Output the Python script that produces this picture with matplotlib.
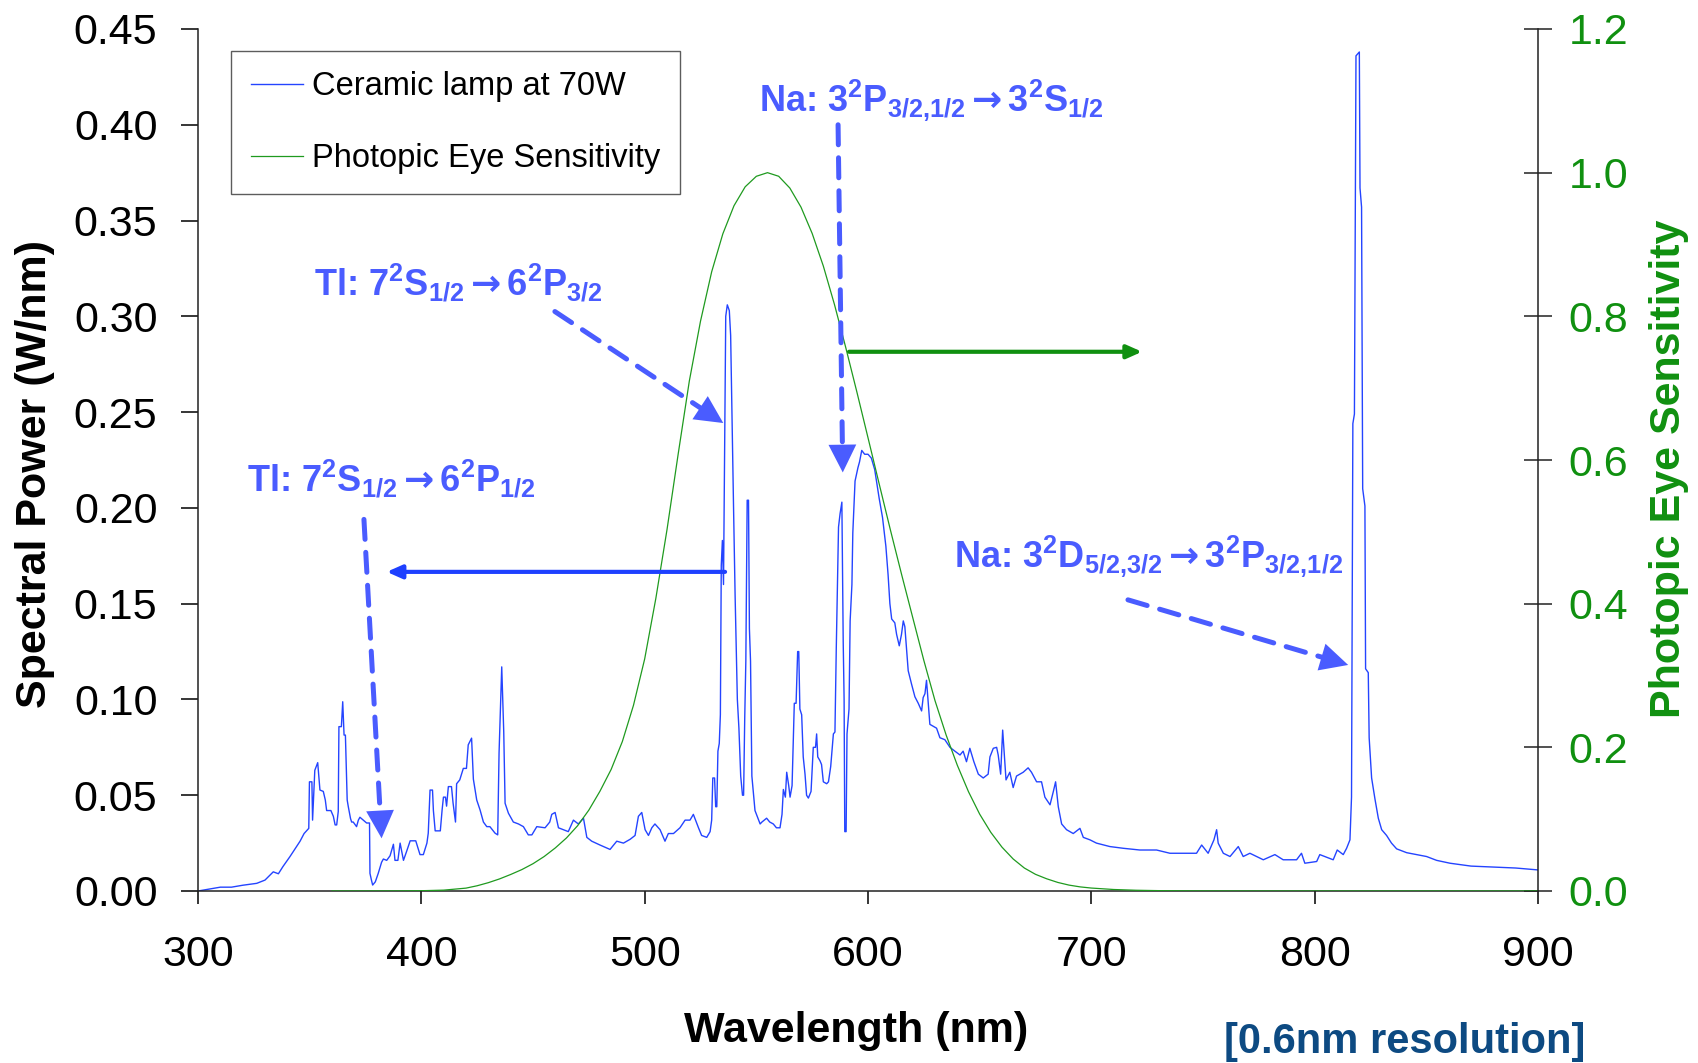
import matplotlib
matplotlib.use('Agg')
import matplotlib.pyplot as plt
from matplotlib.lines import Line2D

plt.rcParams['font.family'] = ['Liberation Sans', 'DejaVu Sans']
plt.rcParams['mathtext.fontset'] = 'custom'
plt.rcParams['mathtext.rm'] = 'Liberation Sans'
plt.rcParams['mathtext.bf'] = 'Liberation Sans:bold'
plt.rcParams['mathtext.it'] = 'Liberation Sans:italic'
plt.rcParams['mathtext.sf'] = 'DejaVu Sans:bold'
plt.rcParams['mathtext.default'] = 'bf'

# ---------------- data ----------------
wavelength = [
    300.0, 305, 310, 315, 320, 326.3, 330, 333.7, 336, 338, 341.2, 344, 345.7, 347.5, 349.6,
    349.9, 351.0, 351.3, 352.3, 353.6, 354.6, 356.1, 357.0, 357.6, 359.5, 360.6, 361.4, 362.1, 362.8,
    363.1, 364.2, 364.8, 365.4, 366.0, 366.8, 367.3, 368.3, 368.8, 369.5, 371.0, 371.8, 372.5, 374.0,
    375.5, 376.8, 377.0, 377.6, 378.2, 379.4, 380.7, 382.2, 383.0, 384.5, 386.0, 387.5, 388.2, 389.5,
    390.5, 392.0, 393.5, 395.0, 397.5, 399.4, 400.9, 402.5, 403.1, 403.9, 405.0, 405.4, 406.2, 406.9,
    408.5, 409.3, 409.9, 410.8, 411.3, 412.1, 413.5, 414.2, 415.3, 415.8, 417.2, 418.8, 420.2, 421.0,
    422.5, 423.3, 424.8, 426.3, 427.8, 429.3, 430.7, 433.0, 434.2, 434.8, 436.0, 436.9, 437.5, 439.0,
    441.2, 443.5, 445.7, 447.9, 449.5, 451.7, 455.4, 457.5, 458.4, 459.9, 461.4, 463.6, 465.8, 468.1,
    470.3, 472.6, 474.1, 476.3, 480.0, 484.5, 487.5, 490.5, 493.5, 495.7, 497.2, 498.7, 500.2, 501.7,
    503.2, 504.6, 506.9, 509.1, 510.6, 512.9, 515.8, 518.1, 520.3, 521.8, 524.1, 525.5, 527.8, 529.3,
    530.0, 530.5, 531.3, 531.8, 532.3, 532.8, 533.4, 533.9, 534.3, 534.8, 535.3, 535.8, 536.3, 537.0,
    537.9, 538.5, 539.2, 539.8, 540.5, 541.5, 542.2, 543.0, 543.8, 544.3, 544.8, 545.3, 545.9, 546.5,
    546.9, 547.4, 548.0, 549.4, 551.7, 552.5, 554.6, 556.0, 557.6, 559.0, 560.6, 561.5, 562.1, 563.0,
    563.6, 564.5, 565.1, 566.0, 567.0, 567.8, 568.5, 569.0, 569.5, 570.3, 571.0, 571.8, 572.5, 573.3,
    574.5, 575.5, 576.5, 577.0, 577.5, 578.5, 579.2, 580.0, 581.5, 582.3, 583.3, 584.5, 585.2, 585.8,
    586.8, 587.5, 588.3, 588.9, 589.3, 589.6, 590.2, 590.6, 591.5, 592.0, 592.8, 593.2, 594.2, 595.5,
    596.2, 597.2, 598.5, 600.0, 601.5, 603.0, 605.0, 606.5, 608.0, 609.0, 609.8, 610.6, 612.0, 612.8,
    614.0, 615.0, 615.8, 616.5, 618.0, 619.5, 621.0, 622.5, 624.0, 624.7, 625.5, 626.2, 627.0, 627.7,
    630.7, 632.2, 634.4, 636.7, 638.9, 641.2, 642.6, 644.1, 645.6, 647.4, 649.4, 651.6, 653.8, 654.6,
    656.1, 657.6, 658.3, 659.4, 660.3, 660.9, 661.8, 663.5, 665.0, 666.5, 669.5, 671.7, 673.2, 675.5,
    677.7, 679.2, 681.5, 683.0, 684.0, 685.2, 686.7, 688.9, 691.9, 694.9, 696.4, 699.4, 702.3, 708.3,
    714.3, 721.7, 729.2, 735.2, 741.2, 747.1, 749.4, 752.3, 754.9, 756.1, 756.8, 759.1, 762.1, 765.8,
    768.0, 771.0, 777.0, 782.2, 785.9, 791.9, 794.1, 795.6, 800.9, 802.3, 808.3, 810.1, 812.8, 814.3,
    815.8, 816.5, 817.1, 817.8, 818.5, 820.0, 820.3, 821.0, 821.5, 822.5, 822.8, 824.0, 824.4, 825.5,
    827.0, 828.5, 830.0, 832.2, 834.4, 836.7, 841.2, 845.6, 850.1, 854.6, 860.6, 870.0, 880.0, 890.0,
    900.0,
]
power = [
    0.000, 0.001, 0.002, 0.002, 0.003, 0.004, 0.0057, 0.010, 0.009, 0.0127, 0.018, 0.023, 0.026, 0.030, 0.0327,
    0.057, 0.057, 0.037, 0.063, 0.067, 0.0527, 0.052, 0.0475, 0.042, 0.042, 0.039, 0.0345, 0.0345, 0.0415,
    0.0858, 0.0858, 0.0988, 0.0814, 0.0814, 0.0475, 0.044, 0.0378, 0.036, 0.036, 0.0336, 0.037, 0.0385, 0.037,
    0.0355, 0.0355, 0.0092, 0.006, 0.0031, 0.0048, 0.0092, 0.015, 0.0167, 0.016, 0.0184, 0.0244, 0.016, 0.016,
    0.025, 0.016, 0.021, 0.0262, 0.0262, 0.019, 0.019, 0.025, 0.0302, 0.0527, 0.0527, 0.042, 0.0314, 0.0314,
    0.0314, 0.0423, 0.049, 0.049, 0.0443, 0.0545, 0.0545, 0.046, 0.036, 0.056, 0.058, 0.064, 0.064, 0.0763,
    0.0798, 0.0584, 0.0475, 0.0423, 0.036, 0.0336, 0.0336, 0.0302, 0.0293, 0.072, 0.117, 0.083, 0.0458, 0.0406,
    0.036, 0.035, 0.0336, 0.0293, 0.0293, 0.0336, 0.033, 0.036, 0.040, 0.041, 0.033, 0.032, 0.031, 0.037,
    0.035, 0.038, 0.028, 0.026, 0.024, 0.0217, 0.026, 0.025, 0.027, 0.029, 0.039, 0.041, 0.032, 0.029,
    0.033, 0.035, 0.032, 0.026, 0.030, 0.030, 0.033, 0.037, 0.037, 0.040, 0.033, 0.029, 0.028, 0.031,
    0.037, 0.059, 0.059, 0.044, 0.044, 0.073, 0.077, 0.092, 0.170, 0.183, 0.160, 0.230, 0.300, 0.306,
    0.303, 0.290, 0.240, 0.200, 0.154, 0.100, 0.085, 0.060, 0.050, 0.050, 0.090, 0.120, 0.204, 0.204,
    0.137, 0.120, 0.060, 0.042, 0.035, 0.036, 0.038, 0.036, 0.035, 0.033, 0.033, 0.040, 0.053, 0.049,
    0.062, 0.055, 0.049, 0.055, 0.098, 0.098, 0.125, 0.125, 0.095, 0.092, 0.070, 0.061, 0.050, 0.0485,
    0.052, 0.075, 0.075, 0.082, 0.070, 0.068, 0.066, 0.057, 0.056, 0.057, 0.065, 0.082, 0.083, 0.127,
    0.190, 0.197, 0.203, 0.130, 0.100, 0.031, 0.031, 0.082, 0.095, 0.141, 0.160, 0.187, 0.214, 0.221,
    0.224, 0.230, 0.228, 0.228, 0.226, 0.220, 0.205, 0.195, 0.180, 0.165, 0.150, 0.142, 0.140, 0.134,
    0.128, 0.134, 0.141, 0.138, 0.115, 0.108, 0.1014, 0.098, 0.094, 0.101, 0.103, 0.110, 0.098, 0.087,
    0.085, 0.080, 0.079, 0.075, 0.073, 0.071, 0.073, 0.0675, 0.0745, 0.0675, 0.061, 0.059, 0.061, 0.070,
    0.0745, 0.075, 0.071, 0.061, 0.084, 0.0736, 0.058, 0.062, 0.054, 0.060, 0.062, 0.0643, 0.062, 0.057,
    0.057, 0.049, 0.045, 0.052, 0.057, 0.044, 0.035, 0.032, 0.030, 0.0327, 0.028, 0.0267, 0.025, 0.0232,
    0.0223, 0.0214, 0.0214, 0.0197, 0.0197, 0.0197, 0.024, 0.0197, 0.0267, 0.032, 0.025, 0.0197, 0.018, 0.0232,
    0.018, 0.0197, 0.0163, 0.019, 0.0163, 0.0163, 0.0197, 0.0145, 0.0154, 0.019, 0.0163, 0.0214, 0.019, 0.0223,
    0.0267, 0.049, 0.244, 0.249, 0.436, 0.438, 0.367, 0.357, 0.210, 0.201, 0.116, 0.114, 0.080, 0.059,
    0.048, 0.038, 0.032, 0.029, 0.025, 0.022, 0.020, 0.019, 0.018, 0.016, 0.0145, 0.013, 0.0125, 0.012,
    0.011,
]

# CIE photopic luminous efficiency V(lambda)
eye_wavelength = [360, 370, 380, 390, 400, 410, 420, 425, 430, 435, 440, 445, 450, 455, 460, 465, 470,
                  475, 480, 485, 490, 495, 500, 505, 510, 515, 520, 525, 530, 535, 540, 545, 550, 555,
                  560, 565, 570, 575, 580, 585, 590, 595, 600, 605, 610, 615, 620, 625, 630, 635, 640,
                  645, 650, 655, 660, 665, 670, 675, 680, 685, 690, 695, 700, 710, 720, 730, 740, 750,
                  760, 770, 780, 790, 800, 810, 820, 830, 900]
eye_sensitivity = [0.0000039, 0.000012, 0.000039, 0.00012, 0.000396, 0.00121, 0.004, 0.0073, 0.0116,
                   0.0168, 0.023, 0.0298, 0.038, 0.048, 0.060, 0.0739, 0.09098, 0.1126, 0.13902, 0.1693,
                   0.20802, 0.2586, 0.323, 0.4073, 0.503, 0.6082, 0.710, 0.7932, 0.862, 0.91485, 0.954,
                   0.9803, 0.99495, 1.0, 0.995, 0.9786, 0.952, 0.9154, 0.870, 0.8163, 0.757, 0.6949,
                   0.631, 0.5668, 0.503, 0.4412, 0.381, 0.321, 0.265, 0.217, 0.175, 0.1382, 0.107,
                   0.0816, 0.061, 0.04458, 0.032, 0.0232, 0.017, 0.011916, 0.00821, 0.005723, 0.004102,
                   0.002091, 0.001047, 0.00052, 0.000249, 0.00012, 0.00006, 0.00003, 0.000015, 0.0000075,
                   0.0000037, 0.0000019, 0.0000009, 0.0000005, 0.0]

series_labels = ['Ceramic lamp at 70W', 'Photopic Eye Sensitivity']
x_ticks = [300, 400, 500, 600, 700, 800, 900]
left_ticks = [0.00, 0.05, 0.10, 0.15, 0.20, 0.25, 0.30, 0.35, 0.40, 0.45]
right_ticks = [0.0, 0.2, 0.4, 0.6, 0.8, 1.0, 1.2]

ARW = r'$\mathsf{\rightarrow}$'
ann_na1 = 'Na: 3$^{2}$P$_{3/2{,}1/2}$' + ARW + '3$^{2}$S$_{1/2}$'
ann_tl1 = 'Tl: 7$^{2}$S$_{1/2}$' + ARW + '6$^{2}$P$_{3/2}$'
ann_tl2 = 'Tl: 7$^{2}$S$_{1/2}$' + ARW + '6$^{2}$P$_{1/2}$'
ann_na2 = 'Na: 3$^{2}$D$_{5/2{,}3/2}$' + ARW + '3$^{2}$P$_{3/2{,}1/2}$'

# ---------------- styles ----------------
BLUE_LINE = '#2444ff'
BLUE_TXT = '#4a5cff'
BLUE_ARROW = '#1e40ff'
GREEN_LINE = '#1f9a1f'
GREEN_TXT = '#109010'
W, H = 1699, 1063

fig = plt.figure(figsize=(W / 100, H / 100), dpi=100)
ax = fig.add_axes([198 / W, 1 - 891 / H, 1340 / W, 862 / H])
ax2 = ax.twinx()

ax.plot(wavelength, power, color=BLUE_LINE, lw=1.0, zorder=2)
ax2.plot(eye_wavelength, eye_sensitivity, color=GREEN_LINE, lw=0.9, zorder=2)

ax.set_xlim(300, 900)
ax.set_ylim(0, 0.45)
ax2.set_ylim(0, 1.2)
ax.set_xticks(x_ticks)
ax.set_xticklabels([str(t) for t in x_ticks])
ax.set_yticks(left_ticks)
ax.set_yticklabels(['%.2f' % t for t in left_ticks])
ax2.set_yticks(right_ticks)
ax2.set_yticklabels(['%.1f' % t for t in right_ticks])

for a in (ax, ax2):
    a.spines['top'].set_visible(False)
    for s in a.spines.values():
        s.set_linewidth(1.1)
        s.set_color('#222222')
ax.spines['right'].set_visible(False)
ax2.spines['left'].set_visible(False)
ax2.spines['bottom'].set_visible(False)

ax.tick_params(axis='x', direction='out', length=9.4, width=1.1, pad=22, labelsize=31, colors='black')
ax.tick_params(axis='y', direction='out', length=12.2, width=1.1, pad=17, labelsize=31, colors='black')
ax2.tick_params(axis='y', direction='inout', length=20, width=1.1, pad=12, labelsize=31,
                labelcolor=GREEN_TXT, color='#222222')

# axis labels
fig.text(856 / W, 1 - 1042 / H, 'Wavelength (nm)', fontsize=31, fontweight='bold',
         ha='center', va='baseline')
fig.text(35 / W, 1 - 474 / H, 'Spectral Power (W/nm)', fontsize=31, fontweight='bold',
         ha='center', va='center', rotation=90)
fig.text(1669 / W, 1 - 469 / H, 'Photopic Eye Sensitivity', fontsize=31, fontweight='bold',
         ha='center', va='center', rotation=90, color=GREEN_TXT)
fig.text(1224 / W, 1 - 1053 / H, '[0.6nm resolution]', fontsize=30, fontweight='bold',
         ha='left', va='baseline', color='#0d4a82')

# legend
handles = [Line2D([], [], color=BLUE_LINE, lw=1.0), Line2D([], [], color=GREEN_LINE, lw=0.9)]
leg = ax2.legend(handles, series_labels, loc='upper left', bbox_to_anchor=(0.0246, 0.9745),
                 borderaxespad=0, fontsize=23.5, frameon=True, fancybox=False, edgecolor='#333333',
                 handlelength=1.6, handletextpad=0.25, labelspacing=1.25, borderpad=0.62)
leg.get_frame().set_linewidth(1.0)

# annotations
td = ax.transData
def dashed_arrow(start, tip):
    ax2.annotate('', xy=tip, xytext=start, xycoords=td, textcoords=td,
                 arrowprops=dict(arrowstyle='-', lw=3.6, ls=(0, (4, 2.6)), color=BLUE_TXT,
                                 shrinkA=0, shrinkB=14), zorder=5)
    ax2.annotate('', xy=tip, xytext=start, xycoords=td, textcoords=td,
                 arrowprops=dict(arrowstyle='-|>,head_length=1.0,head_width=0.5', mutation_scale=20,
                                 lw=0, color=BLUE_TXT, shrinkA=0, shrinkB=0), zorder=5)

def label(x, y, s):
    ax2.text(x, y, s, transform=td, fontsize=26, fontweight='bold', color=BLUE_TXT,
             ha='left', va='baseline', zorder=6)

label(551.2, 0.4074, ann_na1)
label(352.0, 0.311, ann_tl1)
label(321.9, 0.2088, ann_tl2)
label(638.6, 0.169, ann_na2)

dashed_arrow((586.6, 0.400), (588.7, 0.2185))
dashed_arrow((459.8, 0.3025), (535.2, 0.2443))
dashed_arrow((374.3, 0.194), (382.2, 0.0275))
dashed_arrow((716.4, 0.152), (815.0, 0.118))

ax2.annotate('', xy=(384.5, 0.1666), xytext=(536.0, 0.1666), xycoords=td, textcoords=td,
             arrowprops=dict(arrowstyle='-|>,head_length=0.45,head_width=0.2', mutation_scale=20,
                             lw=3.0, color=BLUE_ARROW, shrinkA=0, shrinkB=0), zorder=5)
ax2.annotate('', xy=(722.7, 0.2815), xytext=(591.5, 0.2815), xycoords=td, textcoords=td,
             arrowprops=dict(arrowstyle='-|>,head_length=0.45,head_width=0.2', mutation_scale=20,
                             lw=3.0, color=GREEN_TXT, shrinkA=0, shrinkB=0), zorder=5)

fig.savefig('out.png', dpi=100)
